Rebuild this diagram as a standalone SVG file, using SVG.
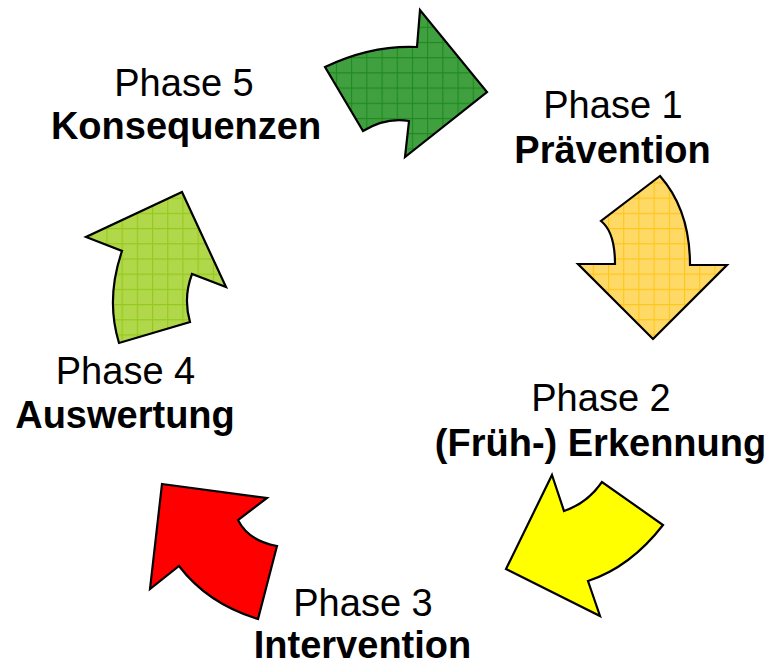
<svg xmlns="http://www.w3.org/2000/svg" width="772" height="666" viewBox="0 0 772 666">
<defs>
<pattern id="gGreen" patternUnits="userSpaceOnUse" x="1.5" y="11.5" width="15.2" height="15.2">
<rect width="15.2" height="15.2" fill="#40a040"/>
<path d="M0 0.5H15.2M0.5 0V15.2" stroke="#1f8a1f" stroke-width="1.2" fill="none"/>
</pattern>
<pattern id="gOrange" patternUnits="userSpaceOnUse" x="0" y="0" width="15.2" height="15.2">
<rect width="15.2" height="15.2" fill="#ffd966"/>
<path d="M0 0.5H15.2M0.5 0V15.2" stroke="#ffc61a" stroke-width="1.2" fill="none"/>
</pattern>
<pattern id="gLime" patternUnits="userSpaceOnUse" x="0" y="0" width="15.2" height="15.2">
<rect width="15.2" height="15.2" fill="#b0d84a"/>
<path d="M0 0.5H15.2M0.5 0V15.2" stroke="#96c81e" stroke-width="1.2" fill="none"/>
</pattern>
</defs>
<style>
.arrow{stroke:#000;stroke-width:2.2;stroke-linejoin:miter}
.t{font-family:"Liberation Sans",Arial,sans-serif;font-size:38px;fill:#000;text-anchor:middle}
.b{font-weight:bold}
</style>
<g id="connectors">
<path id="arrow-5-1" class="arrow" fill="url(#gGreen)" d="M325 67 Q371 45 417 47 L420 10 L487 92 L405 157 L409 121 Q386 117 363 131 Z"/>
<path id="arrow-1-2" class="arrow" fill="url(#gOrange)" d="M660 176 L601 221 Q615 232 615 264 L578 264 L653 339 L727 265 L690 265 Q690 210 660 176 Z"/>
<path id="arrow-2-3" class="arrow" fill="#ffff00" d="M552 475 L564 511 Q587 503.5 602 482 L663 525 Q630.5 567 588 581 L600 616 L506 569 Z"/>
<path id="arrow-3-4" class="arrow" fill="#ff0000" d="M162 484 L267 498 L238 520 Q248.5 541 277 546 L258 619 Q207.5 603.5 179 566 L150 589 Z"/>
<path id="arrow-4-5" class="arrow" fill="url(#gLime)" d="M182 192 L226 287 L192 274 Q183 298 190 322 L119 343 Q105.5 299 122 251 L86 237 Z"/>
</g>
<g id="phase5"><text class="t" x="184" y="96">Phase 5</text><text class="t b" x="186" y="139">Konsequenzen</text></g>
<g id="phase1"><text class="t" x="613" y="118">Phase 1</text><text class="t b" x="612.5" y="163">Prävention</text></g>
<g id="phase2"><text class="t" x="601" y="411">Phase 2</text><text class="t b" x="600.5" y="456">(Früh-) Erkennung</text></g>
<g id="phase3"><text class="t" x="363" y="616">Phase 3</text><text class="t b" x="362.5" y="658">Intervention</text></g>
<g id="phase4"><text class="t" x="125.5" y="384">Phase 4</text><text class="t b" x="125" y="428">Auswertung</text></g>
</svg>
